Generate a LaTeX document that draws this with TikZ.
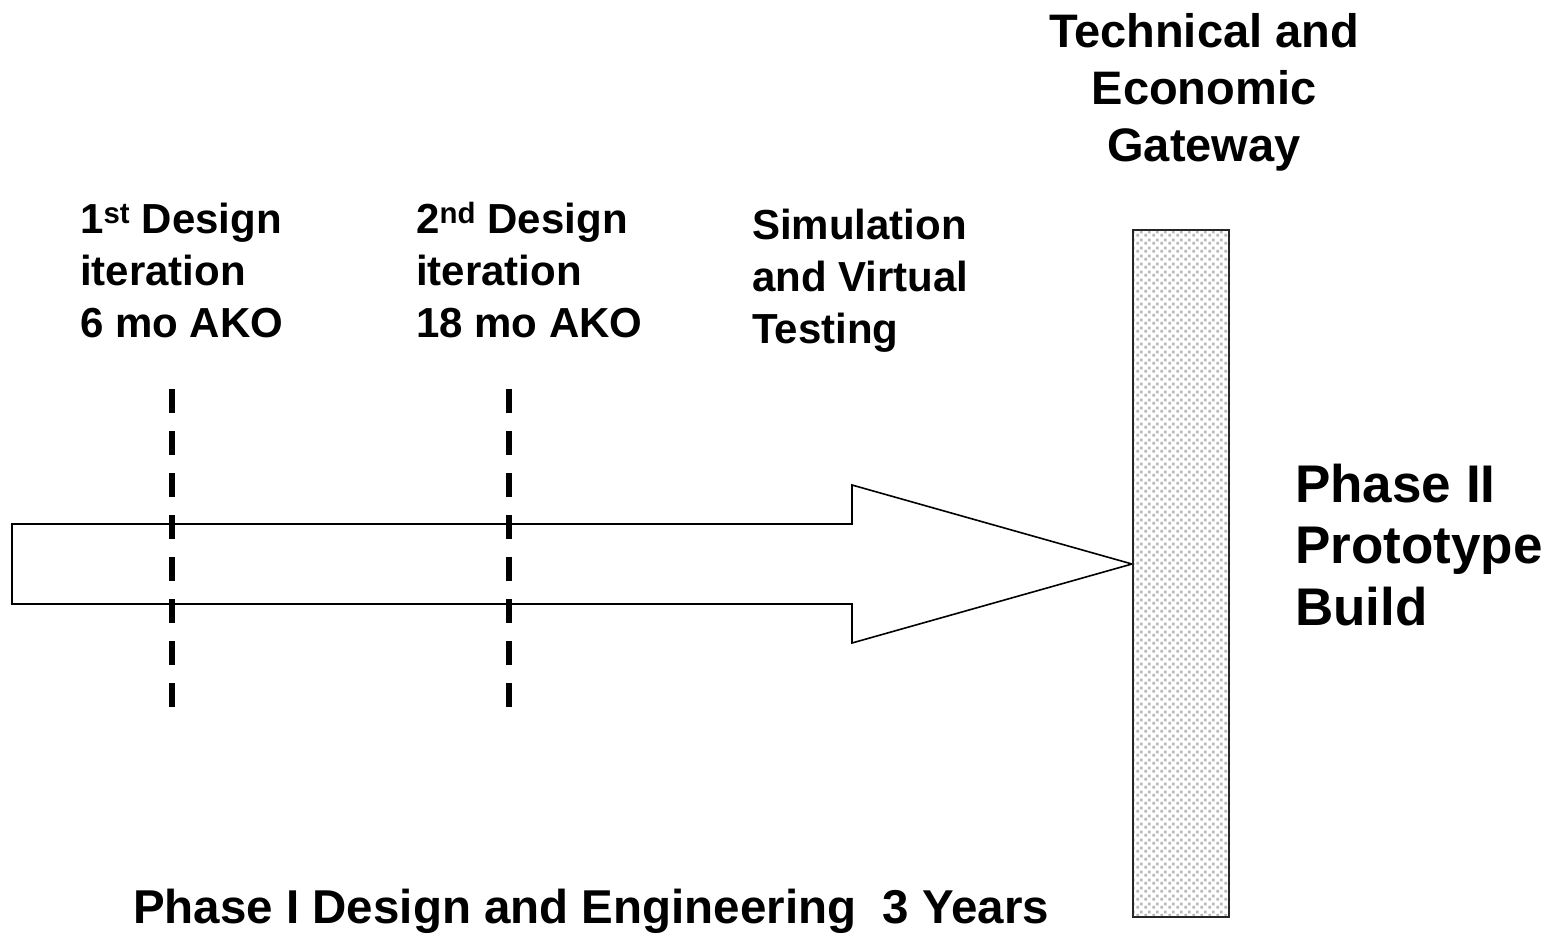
\documentclass[tikz,border=0pt]{standalone}
\usepackage{fontspec}
\setmainfont{Liberation Sans}
\usetikzlibrary{patterns}
\pgfdeclarepatternformonly{gwdots}{\pgfqpoint{0pt}{0pt}}{\pgfqpoint{8pt}{8pt}}{\pgfqpoint{8pt}{8pt}}{%
  \pgfpathrectangle{\pgfqpoint{0.5pt}{0.5pt}}{\pgfqpoint{3pt}{3pt}}%
  \pgfpathrectangle{\pgfqpoint{4.5pt}{4.2pt}}{\pgfqpoint{3pt}{3pt}}%
  \pgfusepath{fill}}
\tikzset{
  lbl/.style={anchor=base west, inner sep=0pt, align=left, font=\bfseries\fontsize{42}{52}\selectfont},
  big/.style={anchor=base west, inner sep=0pt, align=left, font=\bfseries\fontsize{53}{61.5}\selectfont},
  milestone/.style={line width=5.5pt, dash pattern=on 24pt off 18pt},
  flowarrow/.style={draw=black, line width=1.6pt, fill=white, line join=miter},
  gatebar/.style={draw=black!85, line width=2.2pt, pattern=gwdots, pattern color=gray!55}
}
\begin{document}
\begin{tikzpicture}[x=1pt,y=-1pt]
\useasboundingbox (0,0) rectangle (1545,940);
% main arrow
\draw[flowarrow] (12,524) -- (852,524) -- (852,485) -- (1132,564) -- (852,643) -- (852,604) -- (12,604) -- cycle;
% milestones
\coordinate (m1t) at (172,389);
\coordinate (m1b) at (172,710);
\coordinate (m2t) at (509,389);
\coordinate (m2b) at (509,710);
\draw[milestone] (m1t) -- (m1b);
\draw[milestone] (m2t) -- (m2b);
% gateway bar
\node[gatebar, minimum width=96pt, minimum height=687pt, inner sep=0pt, anchor=north west] (gate) at (1132,229) {};
% labels
\node[lbl] (it1) at (80,337) {1\textsuperscript{st} Design\\iteration\\6 mo AKO};
\node[lbl] (it2) at (416,337) {2\textsuperscript{nd} Design\\iteration\\18 mo AKO};
\node[lbl] (sim) at (752,343) {Simulation\\and Virtual\\Testing};
\node[inner sep=0pt, align=center, font=\bfseries\fontsize{47}{57}\selectfont, anchor=base] (gw) at (1204,161) {Technical and\\Economic\\Gateway};
\node[big] (ph2) at (1295,625) {Phase II\\Prototype\\Build};
\node[anchor=base west, inner sep=0pt, font=\bfseries\fontsize{47.5}{57}\selectfont] (ph1) at (133,923) {Phase I Design and Engineering\hspace{0.55em}3 Years};
\end{tikzpicture}
\end{document}
